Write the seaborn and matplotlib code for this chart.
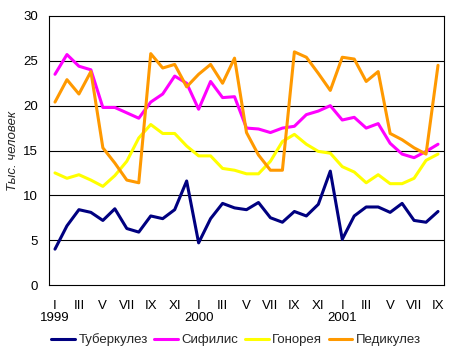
import pandas as pd
import seaborn as sns
import matplotlib.pyplot as plt

# monthly data, Jan 1999 .. Sep 2001 (thousand people)
tuberculosis = [4.0, 6.6, 8.4, 8.1, 7.2, 8.5, 6.3, 5.9, 7.7, 7.4, 8.4, 11.6,
                4.7, 7.4, 9.1, 8.6, 8.4, 9.2, 7.5, 7.0, 8.2, 7.7, 9.0, 12.7,
                5.1, 7.7, 8.7, 8.7, 8.1, 9.1, 7.2, 7.0, 8.2]
syphilis = [23.5, 25.7, 24.4, 24.0, 19.8, 19.8, 19.2, 18.6, 20.4, 21.3, 23.3, 22.5,
            19.6, 22.7, 20.9, 21.0, 17.5, 17.4, 17.0, 17.5, 17.7, 19.0, 19.4, 20.0,
            18.4, 18.7, 17.5, 18.0, 15.8, 14.6, 14.2, 14.9, 15.7]
gonorrhea = [12.5, 11.9, 12.3, 11.7, 11.0, 12.2, 13.8, 16.4, 17.9, 16.9, 16.9, 15.5,
             14.4, 14.4, 13.0, 12.8, 12.4, 12.4, 13.8, 16.0, 16.8, 15.7, 14.9, 14.7,
             13.2, 12.6, 11.4, 12.3, 11.3, 11.3, 11.9, 13.9, 14.6]
pediculosis = [20.4, 22.9, 21.3, 23.8, 15.3, 13.6, 11.7, 11.4, 25.8, 24.2, 24.6, 22.1,
               23.5, 24.6, 22.5, 25.3, 17.0, 14.5, 12.8, 12.8, 26.0, 25.4, 23.6, 21.7,
               25.4, 25.2, 22.7, 23.8, 16.9, 16.2, 15.3, 14.6, 24.5]

series_names = ["Туберкулез", "Сифилис", "Гонорея", "Педикулез"]
colors = ["#000080", "#FF00FF", "#FFFF00", "#FF9900"]
tick_labels = ["I\n1999", "III", "V", "VII", "IX", "XI",
               "I\n2000", "III", "V", "VII", "IX", "XI",
               "I\n2001", "III", "V", "VII", "IX"]

frames = []
for name, vals in zip(series_names, [tuberculosis, syphilis, gonorrhea, pediculosis]):
    frames.append(pd.DataFrame({"month": range(len(vals)), "value": vals, "disease": name}))
df = pd.concat(frames, ignore_index=True)

sns.set_theme(style="white")
plt.rcParams["font.family"] = ["Liberation Sans", "DejaVu Sans"]

fig = plt.figure(figsize=(4.49, 3.57), dpi=100)
ax = fig.add_axes([49 / 449, 1 - 285 / 357, 395 / 449, 269 / 357])

for y in range(5, 30, 5):
    ax.axhline(y, color="black", lw=0.8, zorder=1)

sns.lineplot(data=df, x="month", y="value", hue="disease", hue_order=series_names,
             palette=colors, linewidth=2.2, ax=ax, legend=False, zorder=3)

ax.set_xlim(-0.5, len(tuberculosis) - 0.5)
ax.set_ylim(0, 30)
ax.set_yticks(range(0, 31, 5))
ax.set_xticks(range(0, len(tuberculosis), 2))
ax.set_xticklabels(tick_labels, linespacing=0.95)
ax.tick_params(axis="both", length=0, labelsize=9.5, colors="black")
ax.tick_params(axis="x", pad=11)
ax.tick_params(axis="y", pad=8)
ax.set_xlabel("")
ax.set_ylabel("Тыс. человек", fontsize=9.5, fontstyle="italic", labelpad=3)
for sp in ax.spines.values():
    sp.set_color("black")
    sp.set_linewidth(0.8)

handles = [plt.Line2D([], [], color=c, lw=2.2) for c in colors]
fig.legend(handles, series_names, loc="center", bbox_to_anchor=(236 / 449, 1 - 340 / 357),
           ncol=4, frameon=False, fontsize=9.5, handlelength=1.8, handletextpad=0.25,
           columnspacing=0.5)

plt.savefig("out.png", dpi=100)
plt.close()
